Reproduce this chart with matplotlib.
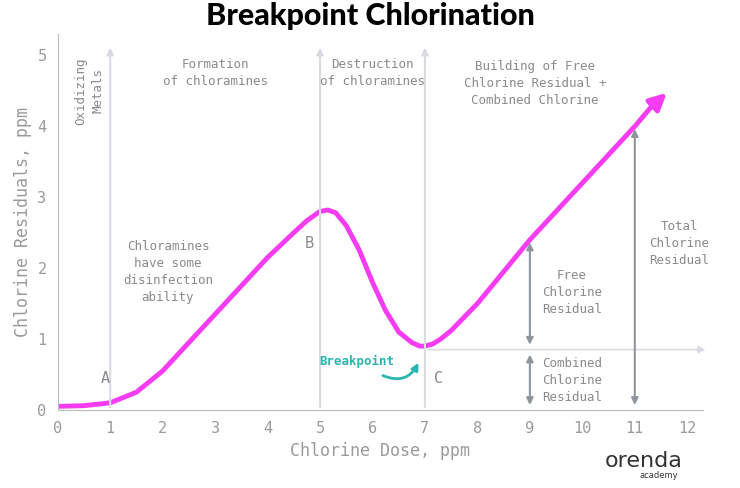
import matplotlib
matplotlib.use("Agg")
import matplotlib.pyplot as plt

dose = [0, 0.5, 1, 1.5, 2, 2.5, 3, 3.5, 4, 4.5, 4.75, 5, 5.15, 5.3, 5.5, 5.75, 6, 6.25, 6.5, 6.75, 6.9, 7, 7.15, 7.3, 7.5, 8, 8.5, 9, 9.5, 10, 10.5, 11, 11.4]
residual = [0.05, 0.06, 0.1, 0.25, 0.55, 0.95, 1.35, 1.75, 2.15, 2.5, 2.67, 2.8, 2.82, 2.78, 2.6, 2.25, 1.8, 1.4, 1.1, 0.95, 0.9, 0.9, 0.93, 1.0, 1.12, 1.5, 1.95, 2.4, 2.8, 3.2, 3.6, 4.0, 4.35]
xticks = list(range(13))
yticks = list(range(6))
gray = "#9a9a9a"
mono = "DejaVu Sans Mono"

fig = plt.figure(figsize=(7.4, 4.88), dpi=100)
ax = fig.add_axes([0.078, 0.16, 0.872, 0.77])
ax.set_xlim(0, 12.3)
ax.set_ylim(0, 5.3)
for s in ["top", "right"]:
    ax.spines[s].set_visible(False)
for s in ["left", "bottom"]:
    ax.spines[s].set_color("#bbbbbb")
ax.set_xticks(xticks)
ax.set_yticks(yticks)
ax.tick_params(colors=gray, length=0, labelsize=11, pad=8)
for t in ax.get_xticklabels() + ax.get_yticklabels():
    t.set_fontfamily(mono)
ax.set_xlabel("Chlorine Dose, ppm", fontfamily=mono, color=gray, fontsize=12)
ax.set_ylabel("Chlorine Residuals, ppm", fontfamily=mono, color=gray, fontsize=12)
fig.suptitle("Breakpoint Chlorination", fontweight="heavy", fontsize=22, y=0.995, family="Lato")

lc = "#d8dce0"
for xv in [1, 5, 7]:
    ax.annotate("", xy=(xv, 5.15), xytext=(xv, 0), arrowprops=dict(arrowstyle="-|>", color=lc, lw=1.5))
ax.annotate("", xy=(12.4, 0.85), xytext=(7, 0.85), annotation_clip=False,
            arrowprops=dict(arrowstyle="-|>", color=lc, lw=1.2))

ax.plot(dose, residual, color="#f53cf2", lw=3.5, solid_capstyle="round")
ax.annotate("", xy=(11.65, 4.5), xytext=(11.3, 4.26),
            arrowprops=dict(arrowstyle="-|>,head_length=1.0,head_width=0.5", color="#f53cf2", lw=3.5))

ac = "#8e969c"
def darrow(x, y0, y1):
    ax.annotate("", xy=(x, y1), xytext=(x, y0), arrowprops=dict(arrowstyle="<|-|>", color=ac, lw=1.5))
darrow(9, 0.03, 0.82)
darrow(9, 0.88, 2.4)
darrow(11, 0.03, 4.0)

tc = "#8a8a8a"
kw = dict(fontfamily=mono, color=tc, fontsize=9, ha="center", va="center", linespacing=1.4)
ax.text(0.6, 4.5, "Oxidizing\nMetals", rotation=90, **kw)
ax.text(3.0, 4.75, "Formation\nof chloramines", **kw)
ax.text(6.0, 4.75, "Destruction\nof chloramines", **kw)
ax.text(9.1, 4.6, "Building of Free\nChlorine Residual +\nCombined Chlorine", **kw)
ax.text(2.1, 1.95, "Chloramines\nhave some\ndisinfection\nability", **kw)
ax.text(9.8, 1.65, "Free\nChlorine\nResidual", **kw)
ax.text(9.8, 0.42, "Combined\nChlorine\nResidual", **kw)
ax.text(11.85, 2.35, "Total\nChlorine\nResidual", **kw)
kw2 = dict(fontfamily=mono, color=tc, fontsize=11, ha="center", va="center")
ax.text(0.9, 0.45, "A", **kw2)
ax.text(4.8, 2.35, "B", **kw2)
ax.text(7.25, 0.45, "C", **kw2)
ax.text(5.7, 0.68, "Breakpoint", fontfamily=mono, color="#2bb5b0", fontsize=9, fontweight="bold", ha="center", va="center")
ax.annotate("", xy=(6.9, 0.7), xytext=(6.15, 0.5),
            arrowprops=dict(arrowstyle="-|>", color="#2bb5b0", lw=2, connectionstyle="arc3,rad=0.5"))
fig.text(0.87, 0.055, "orenda", color="#333", fontsize=16, ha="center", va="center")
fig.text(0.89, 0.025, "academy", color="#333", fontsize=6, ha="center", va="center")
fig.savefig("out.png", dpi=100)
